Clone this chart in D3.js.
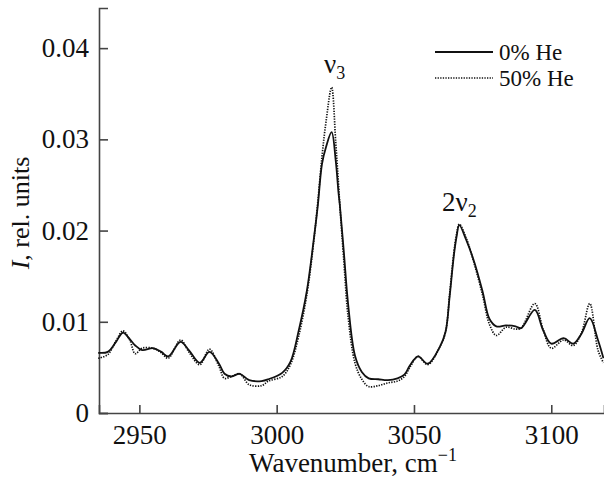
<!DOCTYPE html>
<html>
<head>
<meta charset="utf-8">
<script src="https://cdn.jsdelivr.net/npm/d3@7"></script>
<style>
  body { margin: 0; background: #fff; }
  svg { display: block; font-family: "Liberation Serif", "DejaVu Serif", serif; }
</style>
</head>
<body>
<svg id="chart"></svg>
<script>
// wavenumber, cm-1 (shared by both spectra)
const waveNumbers = [
  2935, 2938.5, 2941.5, 2944, 2946.5, 2948.5, 2951, 2955, 2958, 2960.5,
  2965, 2968, 2972, 2975.5, 2979, 2981, 2983.5, 2986.5, 2990, 2994.5,
  2997, 3002, 3005, 3008, 3011, 3013.5, 3015, 3016.5, 3018, 3020,
  3021.5, 3022.5, 3023, 3024.5, 3026, 3028.5, 3031, 3033.5, 3037, 3040.5,
  3044, 3046.5, 3048.5, 3051.5, 3055, 3059.5, 3061.5, 3063, 3064.5, 3065.5,
  3066.5, 3069, 3072, 3075, 3077.5, 3080, 3083.5, 3087, 3089, 3094,
  3097, 3100, 3104.5, 3108, 3111, 3114, 3117, 3119
];

// 0% He (solid)
const heliumZero = [
  0.0066, 0.0067, 0.0078, 0.0088, 0.0081, 0.0074, 0.0069, 0.0071, 0.0067, 0.0062,
  0.0078, 0.0069, 0.0055, 0.0067, 0.0054, 0.0043, 0.0040, 0.0043, 0.0036, 0.0035,
  0.0037, 0.0044, 0.0056, 0.0090, 0.0134, 0.0190, 0.0228, 0.0273, 0.0292, 0.0308,
  0.0277, 0.0242, 0.0228, 0.0175, 0.0120, 0.0063, 0.0045, 0.0038, 0.0037, 0.0036,
  0.0038, 0.0042, 0.0052, 0.0062, 0.0054, 0.0073, 0.0089, 0.0128, 0.0172, 0.0193,
  0.0206, 0.0190, 0.0165, 0.0133, 0.0103, 0.0095, 0.0096, 0.0095, 0.0093, 0.0113,
  0.0091, 0.0076, 0.0082, 0.0076, 0.0087, 0.0104, 0.0080, 0.0060
];

// 50% He (dotted)
const heliumFifty = [
  0.0060, 0.0064, 0.0079, 0.0090, 0.0080, 0.0065, 0.0071, 0.0071, 0.0066, 0.0060,
  0.0080, 0.0067, 0.0053, 0.0070, 0.0051, 0.0038, 0.0040, 0.0043, 0.0031, 0.0030,
  0.0035, 0.0040, 0.0053, 0.0084, 0.0130, 0.0188, 0.0232, 0.0281, 0.0320, 0.0357,
  0.0297, 0.0252, 0.0228, 0.0165, 0.0106, 0.0055, 0.0037, 0.0029, 0.0030, 0.0033,
  0.0035, 0.0040, 0.0050, 0.0062, 0.0053, 0.0073, 0.0089, 0.0131, 0.0175, 0.0196,
  0.0207, 0.0192, 0.0163, 0.0129, 0.0097, 0.0085, 0.0094, 0.0092, 0.0093, 0.0120,
  0.0092, 0.0071, 0.0080, 0.0074, 0.0088, 0.0120, 0.0069, 0.0055
];

const xTicks = [2950, 3000, 3050, 3100];
const yTicks = [0, 0.01, 0.02, 0.03, 0.04];
const seriesNames = ["0% He", "50% He"];

const WIDTH = 604;
const HEIGHT = 479;
const margin = { top: 8, right: 0, bottom: 66, left: 99 };
const FONT = "Liberation Serif";

const svg = d3.select("#chart").attr("width", WIDTH).attr("height", HEIGHT);

const x = d3.scaleLinear()
  .domain([2935.3, 3119.2])
  .range([margin.left, WIDTH - margin.right]);

const y = d3.scaleLinear()
  .domain([0, 0.0444])
  .range([HEIGHT - margin.bottom, margin.top]);

const axisColor = "#444";

// x axis, ticks pointing inward
const xAxis = svg.append("g")
  .attr("transform", `translate(0,${HEIGHT - margin.bottom})`)
  .call(d3.axisBottom(x).tickValues(xTicks).tickSize(-8).tickPadding(12).tickFormat(d3.format("d")));

// y axis, ticks pointing inward
const yAxis = svg.append("g")
  .attr("transform", `translate(${margin.left},0)`)
  .call(d3.axisLeft(y).tickValues(yTicks).tickSize(-9).tickPadding(10)
    .tickFormat(d => d === 0 ? "0" : d3.format(".2f")(d)));

[xAxis, yAxis].forEach(g => {
  g.attr("font-family", FONT).attr("font-size", 27);
  g.select(".domain").attr("stroke", axisColor).attr("stroke-width", 1.6);
  g.selectAll(".tick line").attr("stroke", axisColor).attr("stroke-width", 1.6);
  g.selectAll(".tick text").attr("fill", "#111");
});

// spectra
const line = d3.line()
  .x((d, i) => x(waveNumbers[i]))
  .y(d => y(d))
  .curve(d3.curveCatmullRom.alpha(0.5));

svg.append("path")
  .datum(heliumFifty)
  .attr("d", line)
  .attr("fill", "none")
  .attr("stroke", "#111")
  .attr("stroke-width", 1.7)
  .attr("stroke-dasharray", "1.3,1.3");

svg.append("path")
  .datum(heliumZero)
  .attr("d", line)
  .attr("fill", "none")
  .attr("stroke", "#111")
  .attr("stroke-width", 1.8);

// axis titles
const xTitle = svg.append("text")
  .attr("x", 353)
  .attr("y", 472)
  .attr("text-anchor", "middle")
  .attr("font-family", FONT)
  .attr("font-size", 27)
  .attr("fill", "#111");
xTitle.append("tspan").text("Wavenumber, cm");
xTitle.append("tspan").attr("font-size", 18).attr("dy", -11).text("\u22121");

const yTitle = svg.append("text")
  .attr("transform", "translate(29,213) rotate(-90)")
  .attr("text-anchor", "middle")
  .attr("font-family", FONT)
  .attr("font-size", 26)
  .attr("fill", "#111");
yTitle.append("tspan").attr("font-style", "italic").text("I");
yTitle.append("tspan").text(", rel. units");

// peak labels
function peakLabel(px, py, pre, sub) {
  const t = svg.append("text")
    .attr("x", px)
    .attr("y", py)
    .attr("font-family", FONT)
    .attr("font-size", 27)
    .attr("fill", "#111");
  t.append("tspan").text(pre);
  t.append("tspan").attr("font-size", 18).attr("dy", 6).text(sub);
}
peakLabel(324, 73, "\u03bd", "3");
peakLabel(442, 211, "2\u03bd", "2");

// legend
const legend = svg.append("g");
seriesNames.forEach((name, i) => {
  const ly = 52 + i * 26;
  legend.append("line")
    .attr("x1", 435).attr("x2", 493)
    .attr("y1", ly).attr("y2", ly)
    .attr("stroke", "#111")
    .attr("stroke-width", i === 0 ? 1.8 : 1.5)
    .attr("stroke-dasharray", i === 0 ? null : "1.3,1.3");
  legend.append("text")
    .attr("x", 499)
    .attr("y", ly + 8)
    .attr("font-family", FONT)
    .attr("font-size", 23)
    .attr("fill", "#111")
    .text(name);
});
</script>
</body>
</html>
